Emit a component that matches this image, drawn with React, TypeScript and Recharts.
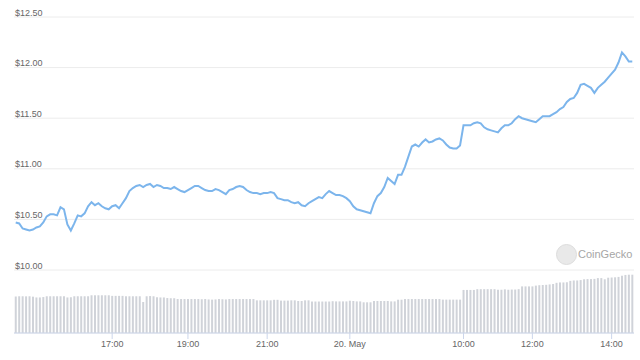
import { ComposedChart, Bar, Line, XAxis, YAxis, CartesianGrid } from "recharts";

// price in USD, one point per sample (ordinal axis like the source chart)
const prices = [
  10.47, 10.46, 10.41, 10.4, 10.39, 10.4, 10.42, 10.43, 10.47, 10.53,
  10.55, 10.55, 10.54, 10.62, 10.6, 10.45, 10.39, 10.46, 10.54, 10.53,
  10.56, 10.63, 10.67, 10.64, 10.66, 10.63, 10.61, 10.6, 10.63, 10.64,
  10.61, 10.66, 10.71, 10.78, 10.81, 10.83, 10.84, 10.82, 10.84, 10.85,
  10.82, 10.84, 10.83, 10.81, 10.81, 10.8, 10.82, 10.8, 10.78, 10.77,
  10.79, 10.81, 10.83, 10.83, 10.81, 10.79, 10.78, 10.78, 10.8, 10.79,
  10.77, 10.75, 10.79, 10.8, 10.82, 10.83, 10.82, 10.79, 10.77, 10.76,
  10.76, 10.75, 10.76, 10.76, 10.77, 10.76, 10.71, 10.7, 10.69, 10.69,
  10.67, 10.66, 10.67, 10.64, 10.63, 10.66, 10.68, 10.7, 10.72, 10.71,
  10.75, 10.78, 10.76, 10.74, 10.74, 10.73, 10.71, 10.68, 10.63, 10.6,
  10.59, 10.58, 10.57, 10.56, 10.66, 10.73, 10.76, 10.82, 10.91, 10.88,
  10.85, 10.94, 10.94, 11.02, 11.12, 11.22, 11.24, 11.22, 11.26, 11.29,
  11.26, 11.27, 11.29, 11.3, 11.28, 11.24, 11.21, 11.2, 11.2, 11.23,
  11.43, 11.43, 11.43, 11.45, 11.46, 11.45, 11.41, 11.39, 11.38, 11.37,
  11.36, 11.4, 11.43, 11.43, 11.45, 11.49, 11.52, 11.5, 11.49, 11.48,
  11.47, 11.46, 11.49, 11.52, 11.52, 11.52, 11.54, 11.56, 11.59, 11.61,
  11.66, 11.69, 11.7, 11.75, 11.83, 11.84, 11.82, 11.8, 11.75, 11.8,
  11.83, 11.86, 11.9, 11.94, 11.98, 12.05, 12.15, 12.11, 12.06, 12.06,
];

// volume, $M
const volumes = [
  9.25, 9.3, 9.3, 9.28, 9.3, 9.2, 9.0, 9.0, 9.1, 9.3,
  9.3, 9.3, 9.3, 9.3, 9.3, 9.0, 9.05, 9.3, 9.3, 9.3,
  9.3, 9.3, 9.55, 9.55, 9.55, 9.55, 9.55, 9.55, 9.4, 9.4,
  9.4, 9.4, 9.3, 9.3, 9.3, 9.3, 9.3, 7.85, 9.3, 9.35,
  9.3, 9.05, 9.0, 9.0, 8.85, 8.8, 8.8, 8.6, 8.6, 8.6,
  8.6, 8.6, 8.6, 8.6, 8.55, 8.6, 8.5, 8.45, 8.5, 8.6,
  8.55, 8.5, 8.6, 8.6, 8.6, 8.6, 8.6, 8.6, 8.6, 8.6,
  8.27, 8.27, 8.27, 8.27, 8.27, 8.4, 8.4, 8.2, 8.2, 8.2,
  8.27, 8.27, 8.1, 8.1, 8.27, 8.27, 7.97, 7.97, 7.97, 7.97,
  7.97, 7.97, 8.05, 8.0, 8.0, 8.0, 8.0, 8.17, 8.1, 8.0,
  8.0, 7.77, 7.77, 7.77, 8.1, 8.1, 8.1, 8.1, 8.1, 8.0,
  8.0, 8.43, 8.43, 8.6, 8.6, 8.6, 8.6, 8.6, 8.6, 8.6,
  8.6, 8.6, 8.6, 8.6, 8.45, 8.45, 8.45, 8.45, 8.45, 8.45,
  10.9, 10.9, 10.9, 10.9, 11.1, 11.1, 11.1, 11.1, 11.1, 11.1,
  10.95, 10.95, 11.05, 10.95, 11.0, 11.0, 11.1, 11.8, 11.8, 11.8,
  11.8, 12.0, 12.1, 12.15, 12.2, 12.3, 12.4, 12.7, 12.8, 12.8,
  12.85, 13.2, 13.3, 13.3, 13.4, 13.6, 13.65, 13.65, 13.7, 13.9,
  13.9, 13.6, 14.0, 14.05, 14.1, 14.2, 14.5, 14.7, 14.76, 14.76,
];

const tickIndex = [28, 50, 73, 97, 130, 150, 173];
const tickLabels = ["17:00", "19:00", "21:00", "20. May", "10:00", "12:00", "14:00"];
const priceTicks = [10, 10.5, 11, 11.5, 12, 12.5];

const data = prices.map((p, i) => ({ i, price: p, volume: volumes[i] }));

const font = "'Liberation Sans', Arial, sans-serif";

// Highcharts-style label: left aligned, sitting just above its grid line
function PriceTick(props: any) {
  const { y, payload } = props;
  return (
    <text x={15} y={y - 1.5} fill="#666" fontSize={9} fontFamily={font} textAnchor="start">
      {"$" + Number(payload.value).toFixed(2)}
    </text>
  );
}

export default function App() {
  return (
    <div style={{ position: "absolute", left: 0, top: 0, width: 640, height: 360, background: "#fff" }}>
      <ComposedChart
        width={640}
        height={360}
        data={data}
        margin={{ top: 17, right: 6, bottom: 0, left: 0 }}
        barCategoryGap="22%"
      >
        <CartesianGrid vertical={false} stroke="#ececec" />
        <XAxis
          dataKey="i"
          type="category"
          ticks={tickIndex}
          interval={0}
          height={27}
          tickFormatter={(v: number) => tickLabels[tickIndex.indexOf(v)] ?? ""}
          axisLine={{ stroke: "#ccd6eb" }}
          tickLine={{ stroke: "#ccd6eb" }}
          tickSize={6}
          tick={{ fill: "#666", fontSize: 9, fontFamily: font }}
        />
        <YAxis
          width={14}
          domain={[9.3775, 12.5]}
          allowDataOverflow
          ticks={priceTicks}
          interval={0}
          axisLine={false}
          tickLine={false}
          tick={(p: any) => <PriceTick {...p} />}
        />
        <YAxis yAxisId="v" hide domain={[0, 80]} />
        <Bar yAxisId="v" dataKey="volume" fill="#d0d3d9" isAnimationActive={false} />
        <Line
          dataKey="price"
          type="linear"
          stroke="#7cb5ec"
          strokeWidth={2}
          dot={false}
          activeDot={false}
          isAnimationActive={false}
        />
      </ComposedChart>
      <div
        style={{
          position: "absolute",
          left: 556,
          top: 244,
          width: 19,
          height: 19,
          borderRadius: "50%",
          background: "#e9e9e9",
          border: "1px solid #dcdcdc",
        }}
      />
      <div
        style={{
          position: "absolute",
          left: 578,
          top: 247,
          fontFamily: font,
          fontSize: 11,
          color: "#a6a6a6",
          lineHeight: "14px",
        }}
      >
        CoinGecko
      </div>
    </div>
  );
}
